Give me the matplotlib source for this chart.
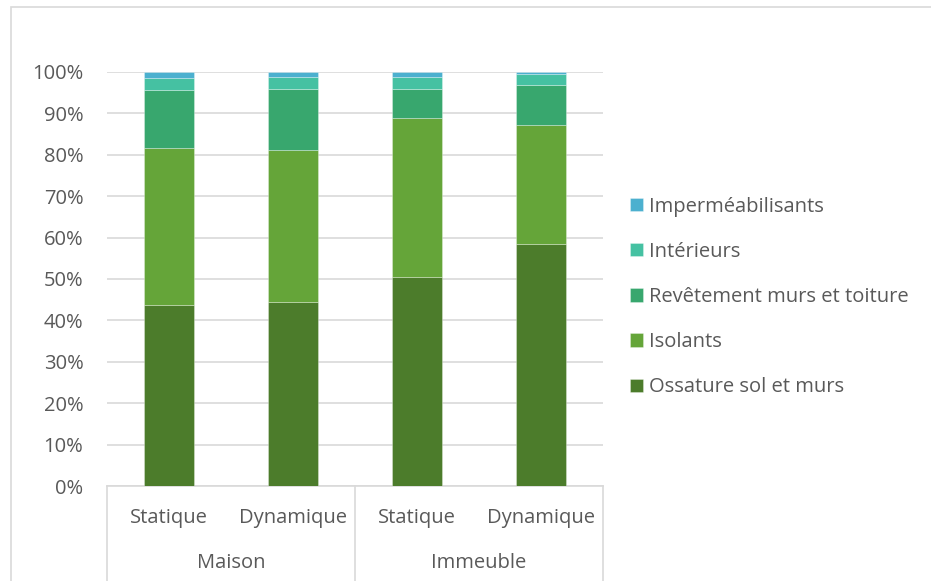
import matplotlib
matplotlib.use('Agg')
import matplotlib.pyplot as plt
from matplotlib.patches import Rectangle
from matplotlib.lines import Line2D
import numpy as np

# Données (en %)
groupes = ['Maison', 'Immeuble']
scenarios = ['Statique', 'Dynamique', 'Statique', 'Dynamique']
series = ['Ossature sol et murs', 'Isolants', 'Revêtement murs et toiture',
          'Intérieurs', 'Imperméabilisants']
ossature = [43.6, 44.5, 50.6, 58.5]
isolants = [38.0, 36.6, 38.4, 28.6]
revetement = [14.0, 14.9, 7.0, 9.7]
interieurs = [3.0, 2.7, 2.7, 2.6]
impermeabilisants = [1.4, 1.3, 1.3, 0.6]
couleurs = ['#4c7c2b', '#65a539', '#38a76e', '#45c1a2', '#4cb0cf']
yticks = [0, 10, 20, 30, 40, 50, 60, 70, 80, 90, 100]

gris = '#595959'
fs = 14.5
plt.rcParams['font.family'] = ['Open Sans', 'DejaVu Sans']

W, H = 931, 581
fig = plt.figure(figsize=(W / 100, H / 100), dpi=100)

# Cadre extérieur du graphique
fig.patches.append(Rectangle((11 / W, -0.1), 1.2, (H - 7) / H + 0.1,
                             transform=fig.transFigure, fill=False,
                             edgecolor='#d9d9d9', linewidth=1.2))

ax = fig.add_axes([107 / W, (H - 486) / H, 496 / W, 414 / H])

x = np.arange(len(scenarios))
valeurs = [ossature, isolants, revetement, interieurs, impermeabilisants]
bas = np.zeros(len(scenarios))
handles = []
for nom, vals, c in zip(series, valeurs, couleurs):
    b = ax.bar(x, vals, width=0.4, bottom=bas, color=c, label=nom,
               edgecolor=(1, 1, 1, 0.35), linewidth=0.6, zorder=3)
    handles.append(b)
    bas += np.array(vals)

ax.set_xlim(-0.5, len(scenarios) - 0.5)
ax.set_ylim(0, 100)
ax.set_yticks(yticks)
ax.set_yticklabels([f'{v}%' for v in yticks], fontsize=fs, color=gris)
ax.tick_params(axis='y', length=0, pad=17)
ax.set_xticks([])
ax.grid(axis='y', color='#d9d9d9', linewidth=1.2, zorder=0)
for s in ['top', 'right', 'left']:
    ax.spines[s].set_visible(False)
ax.spines['bottom'].set_color('#d9d9d9')
ax.spines['bottom'].set_linewidth(1.2)

# Axe des catégories à deux niveaux
tr = ax.get_xaxis_transform()
for sx in [-0.5, 1.5, 3.5]:
    ax.add_line(Line2D([sx, sx], [0, -0.25], transform=tr, color='#d9d9d9',
                       linewidth=1.2, clip_on=False))
for i, s in enumerate(scenarios):
    ax.text(i, -32 / 414, s, transform=tr, ha='center', va='center',
            fontsize=fs, color=gris)
for i, g in enumerate(groupes):
    ax.text(2 * i + 0.5, -77 / 414, g, transform=tr, ha='center',
            va='center', fontsize=fs, color=gris)

leg = fig.legend(handles[::-1], series[::-1], loc='center left',
                 bbox_to_anchor=(612 / W, 1 - 297 / H), frameon=False,
                 fontsize=fs, labelcolor=gris, handlelength=0.65,
                 handleheight=0.65, handletextpad=0.3, labelspacing=1.25)

fig.savefig('out.png', dpi=100)
